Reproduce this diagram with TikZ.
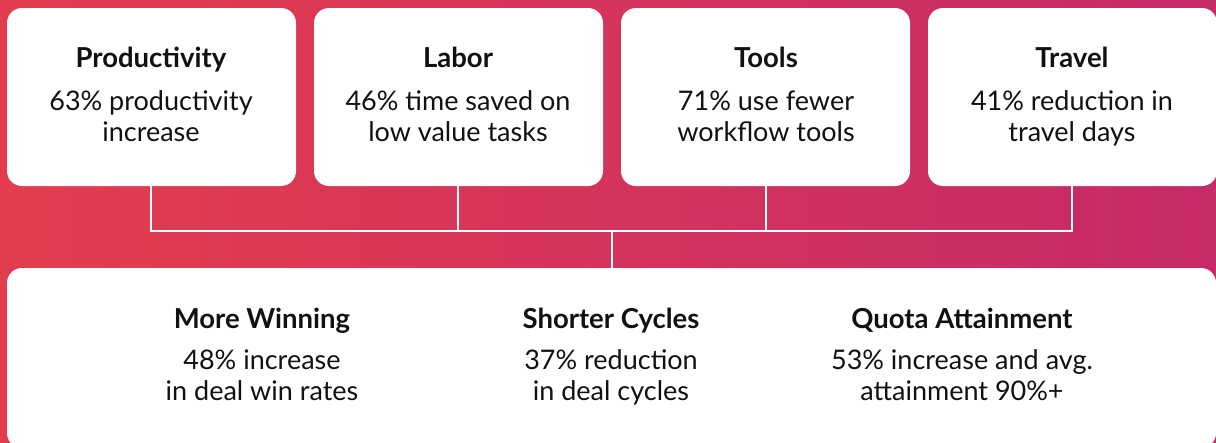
\documentclass[tikz,border=0pt]{standalone}
\usepackage{fontspec}
\setmainfont{Lato}
\definecolor{bgleft}{HTML}{E23D4E}
\definecolor{bgright}{HTML}{C62A68}
\definecolor{ink}{HTML}{111111}
\tikzset{
  card/.style={fill=white, rounded corners=15pt},
  ttl/.style={font=\fontsize{27.5}{30}\selectfont\bfseries, text=ink, anchor=base, inner sep=0pt},
  body/.style={font=\fontsize{27}{31}\selectfont, text=ink, align=center, anchor=base, inner sep=0pt},
  wire/.style={draw=white, line width=2pt}
}
\begin{document}
\begin{tikzpicture}[x=1pt,y=-1pt]
\useasboundingbox (0,0) rectangle (1216,442);
\begin{scope}
\clip (0,0) rectangle (1216,442);
\shade[left color=bgleft, right color=bgright] (0,0) rectangle (1216,442);
% top cards
\fill[card] (7,8) rectangle (296,186);
\fill[card] (314,8) rectangle (603,186);
\fill[card] (621,8) rectangle (910,186);
\fill[card] (928,8) rectangle (1217,186);
% bottom card
\fill[card] (7,268) rectangle (1216,448);
\end{scope}
% anchors
\coordinate (c1) at (151,186);
\coordinate (c2) at (458,186);
\coordinate (c3) at (766,186);
\coordinate (c4) at (1072,186);
\coordinate (h1) at (151,231);
\coordinate (h2) at (458,231);
\coordinate (h3) at (766,231);
\coordinate (h4) at (1072,231);
\coordinate (hm) at (612,231);
\coordinate (bt) at (612,268);
\draw[wire] (c1) -- (h1) -- (h4) -- (c4);
\draw[wire] (c2) -- (h2);
\draw[wire] (c3) -- (h3);
\draw[wire] (hm) -- (bt);
% texts top (body anchored at last line baseline)
\node[ttl] (t1) at (151,67) {Productivity};
\node[body] (b1) at (151,141) {63\% productivity\\increase};
\node[ttl] (t2) at (458,67) {Labor};
\node[body] (b2) at (458,141) {46\% time saved on\\low value tasks};
\node[ttl] (t3) at (766,67) {Tools};
\node[body] (b3) at (766,141) {71\% use fewer\\workflow tools};
\node[ttl] (t4) at (1072,67) {Travel};
\node[body] (b4) at (1072,141) {41\% reduction in\\travel days};
% texts bottom
\node[ttl] (t5) at (262,328) {More Winning};
\node[body] (b5) at (262,400) {48\% increase\\in deal win rates};
\node[ttl] (t6) at (611,328) {Shorter Cycles};
\node[body] (b6) at (611,400) {37\% reduction\\in deal cycles};
\node[ttl] (t7) at (962,328) {Quota Attainment};
\node[body] (b7) at (962,400) {53\% increase and avg.\\attainment 90\%+};
\end{tikzpicture}
\end{document}
